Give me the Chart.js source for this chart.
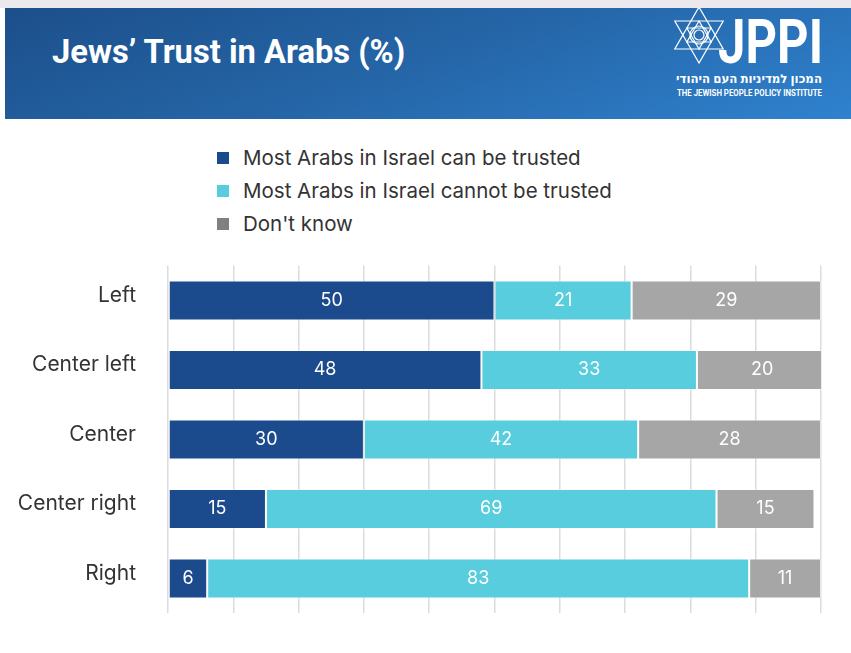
<!DOCTYPE html>
<html>
<head>
<meta charset="utf-8">
<title>Jews’ Trust in Arabs (%)</title>
<script src="https://cdn.jsdelivr.net/npm/chart.js@4.4.1/dist/chart.umd.min.js"></script>
<style>
  html, body { margin: 0; padding: 0; background: #fff; }
  body { width: 851px; height: 653px; position: relative; overflow: hidden; font-family: Inter, "Noto Sans", sans-serif; }
  .topline { position: absolute; left: 0; top: 0; width: 851px; height: 8px; background: #ebe9ee; }
  .header {
    position: absolute; left: 5px; top: 8px; width: 846px; height: 111px;
    background: linear-gradient(160deg, #1c4f8a 0%, #2566a8 50%, #2f82cf 100%);
  }
  .header h1 {
    position: absolute; left: 47px; top: 25px; margin: 0;
    color: #fff; font-family: Roboto, sans-serif; font-weight: 700; font-size: 32.7px; letter-spacing: 0;
  }
  .logo { position: absolute; left: 664px; top: 0; }
  .legend { position: absolute; left: 217px; top: 141px; }
  .legend div { height: 33px; display: flex; align-items: center; font-size: 20.5px; color: #333; }
  .legend span { display: inline-block; width: 12px; height: 12px; margin-right: 14px; }
  /* chart area inset: label half-height + tick padding above and below */
  .chart-box { position: absolute; left: 0; top: 221px; width: 851px; height: 437px; }
</style>
</head>
<body>
<div class="topline"></div>
<div class="header">
  <h1>Jews’ Trust in Arabs (%)</h1>
  <svg class="logo" width="170" height="105" viewBox="0 0 170 105">
    <g fill="none" stroke="#fff" stroke-width="1.2" transform="translate(30,27)">
      <polygon points="0,-28 -24.2,14 24.2,14"/>
      <polygon points="0,28 -24.2,-14 24.2,-14"/>
      <polygon points="0,-14 -12.1,7 12.1,7"/>
      <polygon points="0,14 -12.1,-7 12.1,-7"/>
      <circle r="9"/>
      <circle r="5"/>
    </g>
    <text x="49" y="55" fill="#fff" font-family="Roboto, sans-serif" font-weight="700" font-size="62"
          textLength="105" lengthAdjust="spacingAndGlyphs">JPPI</text>
    <text x="153" y="75" fill="#fff" font-family="'Noto Sans', 'DejaVu Sans', sans-serif" font-weight="700" font-size="12"
          direction="rtl" text-anchor="start" textLength="146" lengthAdjust="spacingAndGlyphs">המכון למדיניות העם היהודי</text>
    <text x="8" y="88" fill="#fff" font-family="Roboto, sans-serif" font-weight="700" font-size="8.5"
          textLength="145" lengthAdjust="spacingAndGlyphs">THE JEWISH PEOPLE POLICY INSTITUTE</text>
  </svg>
</div>

<div class="legend" id="legend"></div>

<div class="chart-box"><canvas id="trustChart" width="851" height="437"></canvas></div>

<script>
// Political self-placement of Jewish respondents
var categories = ['Left', 'Center left', 'Center', 'Center right', 'Right'];

// Shares in percent, one array per answer
var canTrust    = [50, 48, 30, 15, 6];
var cannotTrust = [21, 33, 42, 69, 83];
var dontKnow    = [29, 20, 28, 15, 11];

var seriesNames = ['Most Arabs in Israel can be trusted', 'Most Arabs in Israel cannot be trusted', "Don't know"];
var barColors = ['#1b4a8d', '#58cddd', '#a6a6a6'];
var legendColors = ['#1b4a8d', '#58cddd', '#808080'];

// simple legend, stacked vertically above the chart
var legendEl = document.getElementById('legend');
seriesNames.forEach(function (name, i) {
    var row = document.createElement('div');
    var box = document.createElement('span');
    box.style.background = legendColors[i];
    row.appendChild(box);
    row.appendChild(document.createTextNode(name));
    legendEl.appendChild(row);
});

// white value labels in the middle of each segment
var segmentLabels = {
    id: 'segmentLabels',
    afterDatasetsDraw: function (chart) {
        var ctx = chart.ctx;
        ctx.save();
        ctx.font = '18px Inter, "Noto Sans", sans-serif';
        ctx.fillStyle = '#fff';
        ctx.textAlign = 'center';
        ctx.textBaseline = 'middle';
        chart.data.datasets.forEach(function (ds, i) {
            chart.getDatasetMeta(i).data.forEach(function (bar, j) {
                var p = bar.getCenterPoint();
                ctx.fillText(ds.data[j], p.x, p.y);
            });
        });
        ctx.restore();
    }
};

var ctx = document.getElementById('trustChart').getContext('2d');
new Chart(ctx, {
    type: 'bar',
    data: {
        labels: categories,
        datasets: [canTrust, cannotTrust, dontKnow].map(function (values, i) {
            return {
                label: seriesNames[i],
                data: values,
                backgroundColor: barColors[i],
                borderColor: 'rgba(255,255,255,0.35)',
                borderWidth: 1,
                borderSkipped: false,
                barPercentage: 0.575,
                categoryPercentage: 1
            };
        })
    },
    options: {
        indexAxis: 'y',
        responsive: false,
        animation: false,
        layout: { padding: { top: 0, right: 30, bottom: 0, left: 0 } },
        plugins: {
            legend: { display: false },
            tooltip: { enabled: false }
        },
        scales: {
            x: {
                stacked: true,
                min: 0,
                max: 100,
                ticks: { display: false, stepSize: 10 },
                grid: { color: '#dcdcdc', lineWidth: 1.5, drawTicks: false },
                border: { display: false }
            },
            y: {
                stacked: true,
                afterFit: function (scale) { scale.width = 168; },
                ticks: {
                    color: '#333',
                    padding: 32,
                    labelOffset: -5,
                    font: { family: 'Inter, "Noto Sans", sans-serif', size: 21 }
                },
                grid: { display: false, drawTicks: false },
                border: { display: false }
            }
        }
    },
    plugins: [segmentLabels]
});
</script>
</body>
</html>
